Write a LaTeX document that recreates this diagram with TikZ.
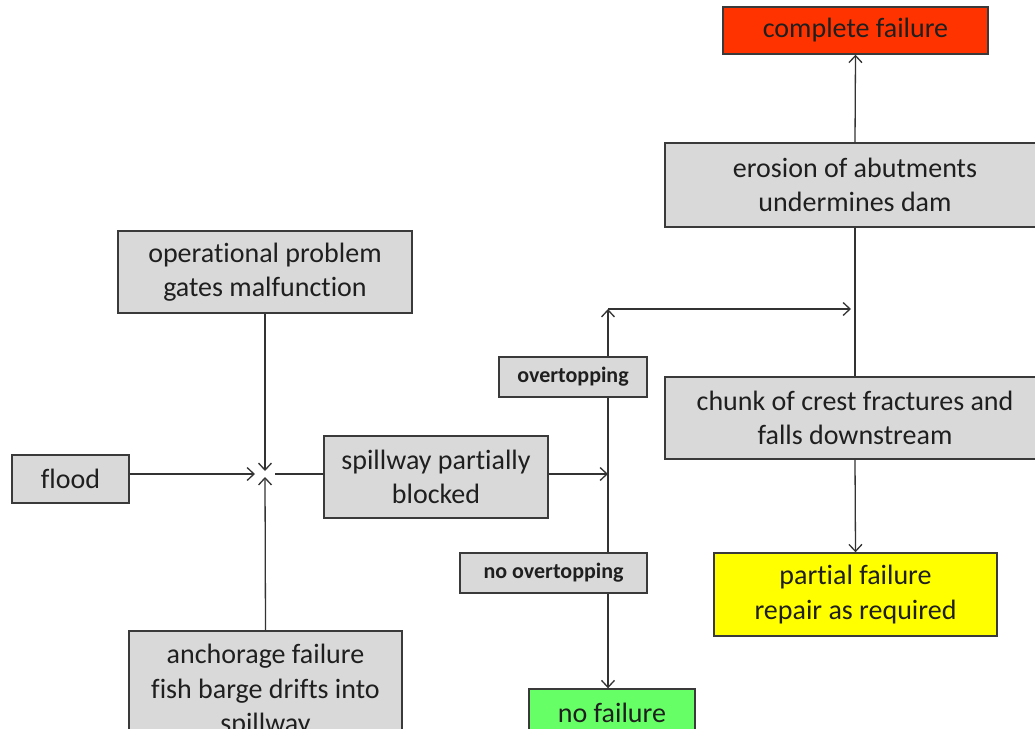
\documentclass[tikz,border=0pt]{standalone}
\usepackage{fontspec}
\setmainfont{Carlito}[Ligatures=NoCommon]
\usetikzlibrary{arrows.meta}
\definecolor{boxgray}{HTML}{D9D9D9}
\definecolor{boxline}{HTML}{3A3A3A}
\definecolor{linec}{HTML}{333333}
\definecolor{failred}{HTML}{FF3300}
\definecolor{partyellow}{HTML}{FFFF00}
\definecolor{okgreen}{HTML}{66FF66}
\begin{document}
\begin{tikzpicture}[x=1pt,y=-1pt,
  box/.style={draw=boxline, fill=boxgray, line width=1.4pt, inner sep=0pt,
    align=center, text=black!88, font=\fontsize{28}{34.5}\selectfont},
  tag/.style={box, font=\fontsize{22}{26}\selectfont\bfseries},
  flow/.style={draw=linec, line width=1.3pt,
    -{Straight Barb[length=7pt,width=13pt]}},
  link/.style={draw=linec, line width=1.3pt}]
\useasboundingbox (0,0) rectangle (1035,728);
\clip (0,0) rectangle (1035,728);

% outcome boxes
\node[box, fill=failred, minimum width=265pt, minimum height=47pt] (complete) at (855.5,30.5) {complete failure};
\node[box, fill=partyellow, minimum width=283pt, minimum height=83pt] (partial) at (855.5,594.5) {partial failure\\repair as required};
\node[box, fill=okgreen, minimum width=166pt, minimum height=47pt] (nofail) at (612,712.5) {no failure};

% cause and mechanism boxes
\node[box, minimum width=380pt, minimum height=84pt] (erosion) at (855,185) {erosion of abutments\\undermines dam};
\node[box, minimum width=380pt, minimum height=82pt] (chunk) at (855,418) {chunk of crest fractures and\\falls downstream};
\node[box, minimum width=294pt, minimum height=82pt] (operational) at (265,272) {operational problem\\gates malfunction};
\node[box, minimum width=117pt, minimum height=48pt] (flood) at (70.5,479) {flood};
\node[box, minimum width=224pt, minimum height=82pt] (spillway) at (436,477) {spillway partially\\blocked};
\node[box, minimum width=273pt, minimum height=120pt] (anchorage) at (265.5,691) {anchorage failure\\fish barge drifts into\\spillway};

% branch labels
\node[tag, minimum width=148pt, minimum height=40pt] (over) at (573,377) {overtopping};
\node[tag, minimum width=187pt, minimum height=40pt] (noover) at (553.5,573) {no overtopping};

% junction points
\coordinate (J) at (265,474);
\coordinate (S) at (608,474);
\coordinate (T) at (608,309);
\coordinate (E) at (T -| erosion.south);

% connectors into the junction
\draw[flow] (flood.east |- J) -- ([xshift=-10pt]J);
\draw[flow] (operational.south) -- ([yshift=3pt]J);
\draw[flow] (anchorage.north) -- ([yshift=-3pt]J);
\draw[link] (spillway.west |- J) -- ([xshift=10pt]J);

% spillway to the branch line
\draw[flow] (spillway.east |- S) -- (S);
\draw[link] (S) -- (S |- over.south);
\draw[flow] (S |- over.north) -- (T);
\draw[flow] (T) -- ([xshift=-4pt]E);
\draw[link] (S) -- (S |- noover.north);
\draw[flow] (S |- noover.south) -- (S |- nofail.north);

% right-hand column
\draw[link] (erosion.south) -- (chunk.north);
\draw[flow] (erosion.north) -- (complete.south);
\draw[flow] (chunk.south) -- (partial.north);
\end{tikzpicture}
\end{document}
